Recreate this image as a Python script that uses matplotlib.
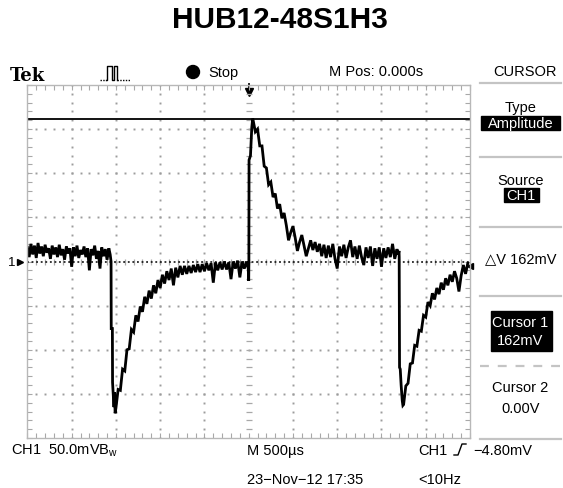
import numpy as np
import matplotlib
matplotlib.use('Agg')
import matplotlib.pyplot as plt
from matplotlib.patches import Rectangle, Circle

W, H = 563, 489

# scope settings (mV, ms)
mv_per_div = 50.0
ms_per_div = 0.5
cursor1_mv = 162.0
cursor2_mv = 0.0
trig_level_mv = -4.80

# trace, in (ms, mV)
# flat part before the first falling edge
seg_a_span = (-2.50, -1.58)
seg_a_v = [16, 5, 20, 8, 18, 4, 21, 9, 17, 6, 19, 10, 15, 3, 18, 8, 16, 5, 19, 7,
           14, 2, 17, 9, 15, -6, 16, 6, 18, 4, 13, 8, 17, 5, 15, -10, 14, 7, 18, 3,
           12, -8, 16, 6, 14, 2, 15]
# first falling edge
edge1_t = [-1.565, -1.555, -1.553, -1.540, -1.538, -1.530, -1.522, -1.515, -1.509]
edge1_v = [8, 0, -76, -76, -137, -150, -165, -148, -172]
# recovery after the first undershoot
seg_b_span = (-1.500, -0.025)
seg_b_v = [-166, -145, -146, -122, -124, -100, -99, -77, -80, -61,
           -68, -51, -57, -40, -48, -33, -42, -27, -36, -21,
           -30, -15, -25, -11, -21, -8, -27, -7, -18, -5,
           -15, -5, -14, -5, -13, -4, -12, -3, -12, -3,
           -11, -2, -10, -2, -24, -1, -10, -1, -9, 0,
           -9, -1, -20, 0, -8, 1, -18, 0, -8, 0]
# rising edge at the trigger point
edge2_t = [-0.005, 0.000, 0.002, 0.004, 0.020, 0.035, 0.045]
edge2_v = [-8, -22, 0, 115, 120, 152, 162]
# overshoot decay
seg_c_span = (0.050, 0.800)
seg_c_v = [160, 147, 150, 131, 131, 108, 106, 87, 90, 73,
           77, 60, 65, 49, 55, 41, 24, 33, 40, 27,
           12, 22, 30, 18, 6, 15, 24, 13, 22, 11, 20]
# flat part
seg_d_span = (0.825, 1.675)
seg_d_v = [6, 19, 4, 18, 5, 20, 3, -8, 17, 6,
           19, 4, 16, 24, 5, 17, 3, 18, 5, -4,
           16, 4, 17, -5, 15, 3, 16, -6, 15, 4,
           16, 5, 20, 3, 14]
# second falling edge
edge3_t = [1.690, 1.698, 1.700, 1.704, 1.712, 1.722, 1.735, 1.742]
edge3_v = [8, 12, 5, -120, -122, -140, -158, -163]
# second recovery
seg_e_span = (1.750, 2.475)
seg_e_v = [-162, -141, -138, -116, -115, -95, -96, -78, -79, -61,
           -63, -46, -50, -36, -43, -30, -37, -24, -32, -19,
           -27, -15, -23, -11, -19, -34, -16, -4, -14, -2]

menu_items = [("Type", 108, False), ("Amplitude", 124, True),
              ("Source", 181, False), ("CH1", 196, True),
              ("\u25b3V 162mV", 259, False),
              ("Cursor 1", 323, True), ("162mV", 341, True),
              ("Cursor 2", 388, False), ("0.00V", 409, False)]
menu_boxes = [(481, 117, 79, 14), (504, 189, 35, 14), (491, 312, 61, 40)]
menu_lines = [83.5, 158, 228, 297, 439.6]
menu_dashed = 367


def seg(span, vals):
    return np.linspace(span[0], span[1], len(vals)), np.array(vals, float)


parts = [seg(seg_a_span, seg_a_v), (np.array(edge1_t), np.array(edge1_v, float)),
         seg(seg_b_span, seg_b_v), (np.array(edge2_t), np.array(edge2_v, float)),
         seg(seg_c_span, seg_c_v), seg(seg_d_span, seg_d_v),
         (np.array(edge3_t), np.array(edge3_v, float)), seg(seg_e_span, seg_e_v)]
t = np.concatenate([p[0] for p in parts])
v = np.concatenate([p[1] for p in parts])

plt.rcParams['font.family'] = ['Liberation Sans', 'DejaVu Sans']

fig = plt.figure(figsize=(W / 100, H / 100), dpi=100)
fig.patch.set_facecolor('white')

# overlay in pixel coordinates for the scope's text
ov = fig.add_axes([0, 0, 1, 1])
ov.set_xlim(0, W)
ov.set_ylim(H, 0)
ov.axis('off')

x0, x1, y0, y1 = 27.4, 470.0, 86.0, 439.0
ax = fig.add_axes([x0 / W, 1 - y1 / H, (x1 - x0) / W, (y1 - y0) / H])
ax.set_xlim(-5 * ms_per_div, 5 * ms_per_div)
ax.set_ylim(-4 * mv_per_div, 4 * mv_per_div)
ax.set_facecolor('none')

grid_col = '#a8a8a8'
xmaj = np.arange(-5, 6) * ms_per_div
ymaj = np.arange(-4, 5) * mv_per_div
xmin = np.arange(-25, 26) * ms_per_div / 5
ymin = np.arange(-20, 21) * mv_per_div / 5
ax.set_xticks(xmaj)
ax.set_yticks(ymaj)
ax.set_xticks(xmin, minor=True)
ax.set_yticks(ymin, minor=True)
ax.tick_params(which='both', direction='in', top=True, right=True, length=3.5,
               width=0.8, color=grid_col, labelbottom=False, labelleft=False)
for s in ax.spines.values():
    s.set_color('#b8b8b8')
    s.set_linewidth(1.0)

# dotted graticule
for gx in xmaj[1:-1]:
    if gx == 0:
        continue
    ax.plot(np.full(len(ymin), gx), ymin, 's', ms=1.4, color='#9c9c9c', mec='none')
for gy in ymaj[1:-1]:
    if gy == 0:
        continue
    ax.plot(xmin, np.full(len(xmin), gy), 's', ms=1.4, color='#9c9c9c', mec='none')
# centre crosshair
ax.plot(np.zeros(len(ymin)), ymin, '_', ms=5, mew=0.9, color=grid_col)
ax.plot(xmin, np.zeros(len(xmin)), '|', ms=5, mew=0.9, color=grid_col)

# cursors
ax.axhline(cursor1_mv, color='black', lw=1.3)
ax.axhline(cursor2_mv, color='black', lw=1.1, ls=(0, (1.2, 1.8)))

# trace
ax.plot(t, v, color='black', lw=2.0, solid_joinstyle='miter')

# trigger level marker
ax.plot([5 * ms_per_div], [trig_level_mv], marker='<', ms=5, color='black', clip_on=False)

# title
fig.text(0.497, 1 - 20 / H, "HUB12-48S1H3", ha='center', va='center',
         fontsize=21.5, fontweight='bold')

fs = 10.5
# header
ov.text(10, 76, "Tek", fontsize=13, fontweight='bold', family='DejaVu Serif',
        ha='left', va='center')
ov.plot([100, 106], [81, 81], color='black', lw=1, ls=(0, (1, 1)))
ov.plot([106, 107, 107, 112, 112, 114, 114, 117, 117], [81, 81, 67, 67, 81, 81, 67, 67, 81],
        color='black', lw=1)
ov.plot([117, 130], [81, 81], color='black', lw=1, ls=(0, (1, 1)))
ov.add_patch(Circle((193, 73), 6.5, color='black'))
ov.text(208, 73, "Stop", fontsize=fs, ha='left', va='center')
ov.text(376.5, 72, "M Pos: 0.000s", fontsize=fs, ha='center', va='center')
ov.text(525, 72, "CURSOR", fontsize=fs, ha='center', va='center')

# trigger position arrow and ground marker
ov.plot([248.7, 248.7], [85, 91], color='black', lw=1.3)
ov.plot([248.7], [93], marker='v', ms=6, color='black')
ov.text(12, 263, "1", fontsize=9.5, ha='center', va='center')
ov.plot([20], [262.5], marker='>', ms=5, color='black')

# side menu
for y in menu_lines:
    ov.plot([480, 561], [y, y], color='#c4c4c4', lw=1.6)
ov.plot([480, 561], [menu_dashed, menu_dashed], color='#c4c4c4', lw=1.6, ls=(0, (4, 4)))
for bx, by, bw, bh in menu_boxes:
    ov.add_patch(Rectangle((bx, by), bw, bh, color='black'))
for txt, y, inv in menu_items:
    ov.text(520.5, y, txt, fontsize=fs, ha='center', va='center',
            color='white' if inv else 'black')

# bottom readout
ov.text(10.8, 451, r"CH1  50.0mVB$\mathregular{_w}$", fontsize=fs, ha='left', va='center')
ov.text(246.8, 451, "M 500\u00b5s", fontsize=fs, ha='left', va='center')
ov.text(418, 451, "CH1", fontsize=fs, ha='left', va='center')
ov.plot([454, 458, 462, 466], [456, 456, 445, 445], color='black', lw=1)
ov.text(473, 451, "\u22124.80mV", fontsize=fs, ha='left', va='center')
ov.text(246.8, 479.5, "23\u2212Nov\u221212 17:35", fontsize=fs, ha='left', va='center')
ov.text(418, 479.5, "<10Hz", fontsize=fs, ha='left', va='center')

plt.savefig('out.png', dpi=100)
plt.close()
